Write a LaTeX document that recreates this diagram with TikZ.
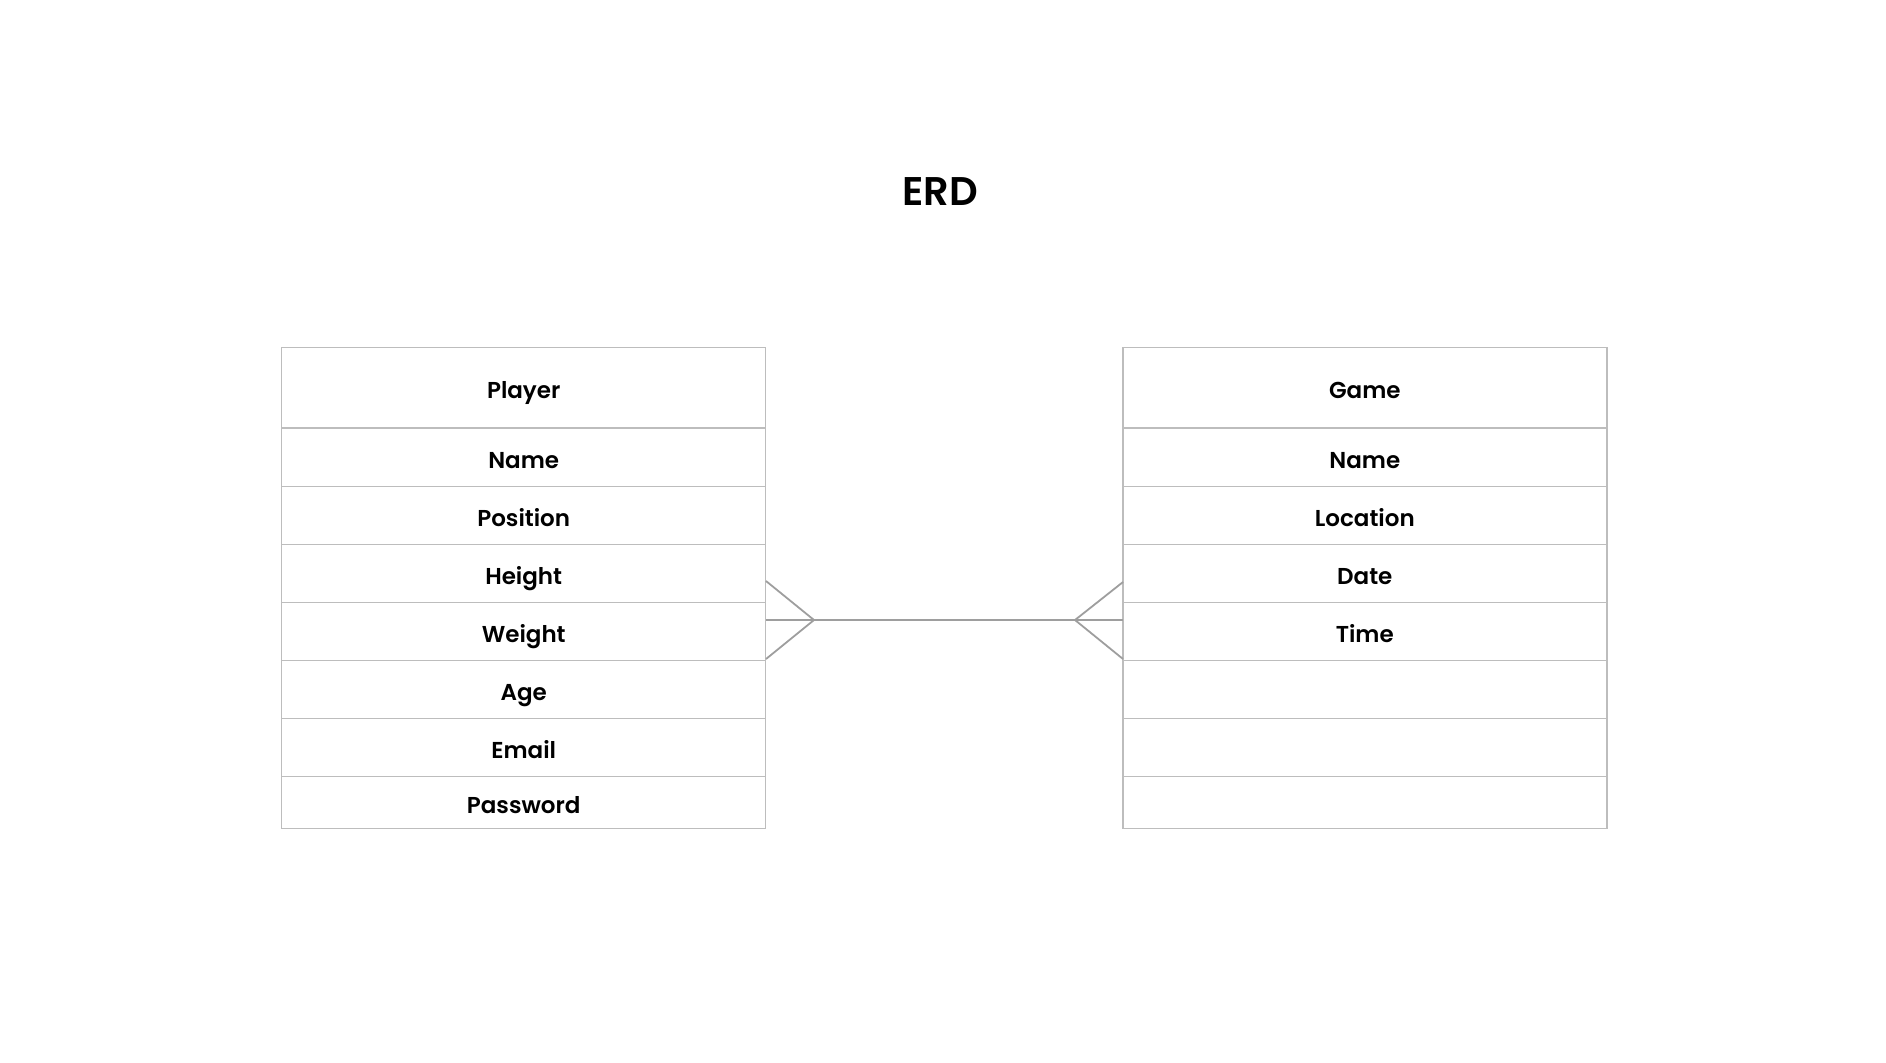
\documentclass[tikz,border=0pt]{standalone}
\usepackage{fontspec}
\setmainfont{Poppins}[UprightFont={* Medium},BoldFont={* SemiBold}]

\definecolor{boxgray}{HTML}{BDBDBD}
\definecolor{linkgray}{HTML}{9E9E9E}

\tikzset{
  cell/.style={draw=boxgray, line width=0.7pt, minimum width=242pt, inner sep=0pt,
    text height=11pt, text depth=0pt, font=\bfseries\fontsize{11.5}{14}\selectfont},
  link/.style={draw=linkgray, line width=0.9pt}
}

\begin{document}
\begin{tikzpicture}[x=0.5pt,y=-0.5pt]

% Page frame (pixel grid, y downwards)
\useasboundingbox (0,0) rectangle (1886,1062);

% Title
\node[font=\bfseries\fontsize{20}{24}\selectfont, text height=14pt, text depth=0pt, inner sep=0pt] (title) at (940,191) {ERD};

% Player entity
\foreach \n/\y/\h/\lbl in {ph/387.8/40.3/Player, pname/457.15/29.05/Name, ppos/515.25/29.05/Position,
  pheight/573.35/29.05/Height, pweight/631.45/29.05/Weight, page/689.55/29.05/Age,
  pemail/747.65/29.05/Email, ppass/802.6/25.9/Password}
{
  \node[cell, minimum height=\h pt] (\n) at (523.7,\y) {\lbl};
}

% Game entity (last three rows empty)
\foreach \n/\y/\h/\lbl in {gh/387.8/40.3/Game, gname/457.15/29.05/Name, gloc/515.25/29.05/Location,
  gdate/573.35/29.05/Date, gtime/631.45/29.05/Time, grow5/689.55/29.05/,
  grow6/747.65/29.05/, grow7/802.6/25.9/}
{
  \node[cell, minimum height=\h pt] (\n) at (1364.8,\y) {\lbl};
}

% Relationship: many to many
\coordinate (pfoot) at (766,620);
\coordinate (gfoot) at (1123,620);
\draw[link] (pfoot) -- (gfoot);
\draw[link] (pfoot) ++(0,-39) -- ++(48,39) -- ++(-48,39);
\draw[link] (gfoot) ++(0,-38) -- ++(-48,38) -- ++(48,39);

\end{tikzpicture}
\end{document}
